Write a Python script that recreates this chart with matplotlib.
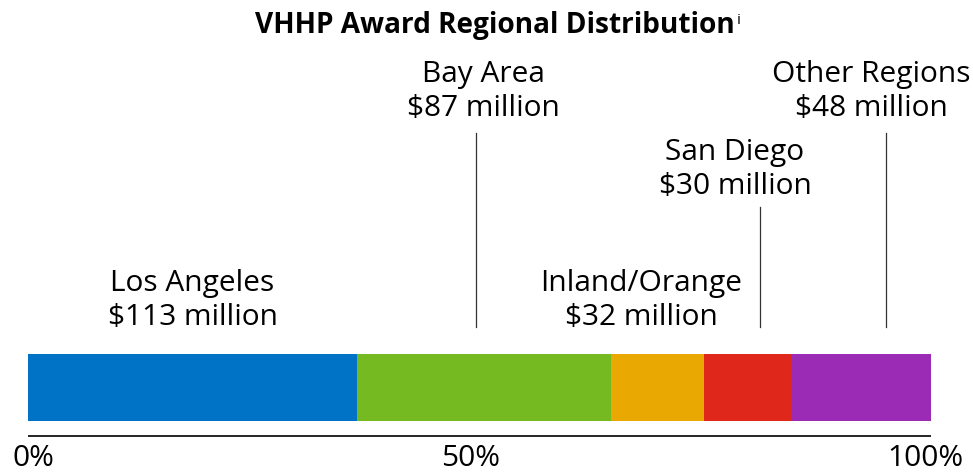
import matplotlib
matplotlib.use("Agg")
import matplotlib.pyplot as plt
import numpy as np

# Award amounts by region, in millions of dollars
regions = ["Los Angeles", "Bay Area", "Inland/Orange", "San Diego", "Other Regions"]
awards = [113, 87, 32, 30, 48]
tick_values = [0, 50, 100]

colors = ["#0073C7", "#76BA22", "#E9A902", "#E0271B", "#9B2BB5"]

# label placement (percent along bar, baseline in px from top)
label_x = [None, None, 67.9, 78.3, 93.4]
label_y = [291, 82, 291, 160, 82]
# leader lines: (x percent, top px) or None
leaders = [None, (49.6, 133), None, (81.1, 207), (95.0, 133)]
tick_x = [0.55, 49.0, 99.35]

FONT = "Open Sans"
FS = 21.5

W, H = 973, 474
fig = plt.figure(figsize=(W / 100, H / 100), dpi=100)
ax = fig.add_axes([28 / W, 0, 903 / W, 1])
ax.set_xlim(0, 100)
ax.set_ylim(H, 0)
ax.axis("off")

shares = np.array(awards) / sum(awards) * 100
lefts = np.concatenate([[0], np.cumsum(shares)[:-1]])
ax.barh(387.5, shares, left=lefts, height=67, color=colors, linewidth=0)

# baseline axis
ax.plot([0, 100], [436, 436], color="black", lw=1.2, solid_capstyle="butt")
for v, tx in zip(tick_values, tick_x):
    ax.text(tx, 473.5, f"{v}%", ha="center", va="bottom", fontsize=FS,
            family=FONT, color="black")

for i, (name, amt) in enumerate(zip(regions, awards)):
    x = label_x[i] if label_x[i] is not None else lefts[i] + shares[i] / 2
    y = label_y[i]
    ax.text(x, y, name, ha="center", va="baseline", fontsize=FS, family=FONT)
    ax.text(x, y + 34, f"${amt} million", ha="center", va="baseline",
            fontsize=FS, family=FONT)
    if leaders[i] is not None:
        lx, top = leaders[i]
        ax.plot([lx, lx], [top, 327], color="#333333", lw=0.9)

fig.text(495 / W, 1 - 33 / H, "VHHP Award Regional Distribution", ha="center",
         va="baseline", fontsize=20.2, fontweight="bold", family=FONT)
fig.text(737 / W, 1 - 24 / H, "i", ha="left", va="baseline", fontsize=11,
         family=FONT)

fig.savefig("out.png", dpi=100)
